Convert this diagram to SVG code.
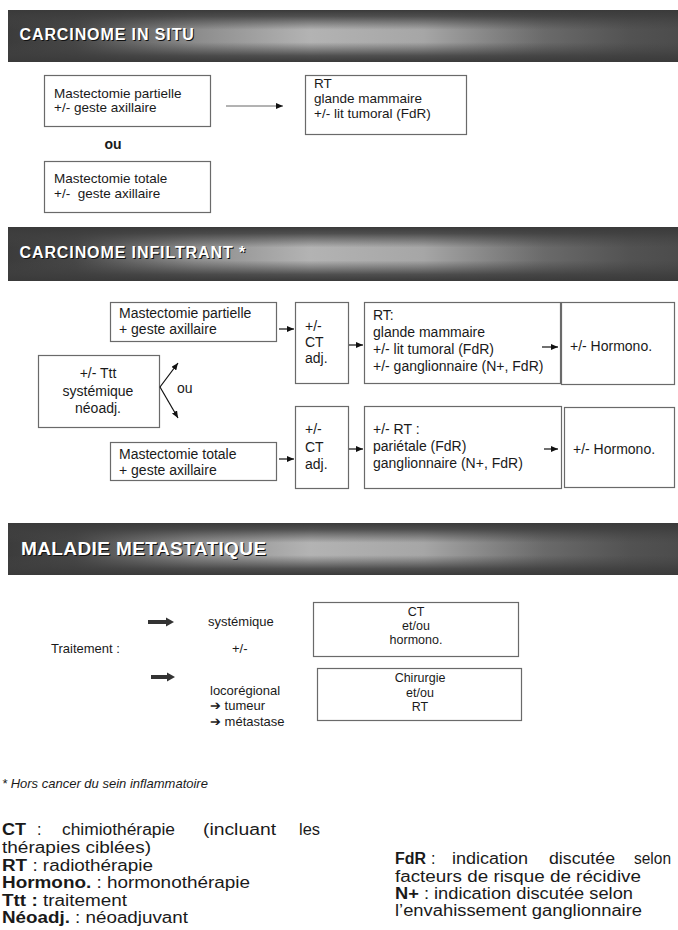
<svg xmlns="http://www.w3.org/2000/svg" width="678" height="930" viewBox="0 0 678 930">
<style>
text{font-family:"Liberation Sans",Arial,sans-serif;fill:#1a1a1a}
.t{font-weight:bold;fill:#fff}
.ts{font-weight:bold;fill:#111}
.box{fill:#fff;stroke:#6a6a6a;stroke-width:1.2}
.s{font-size:13.5px}
.m{font-size:14px}
.k{font-size:13px}
.b{font-size:12.5px}
.c{text-anchor:middle}
.lg{font-size:16px}
.bd{font-weight:bold}
.con line{stroke:#111;stroke-width:1.2;fill:none}
</style>
<defs>
<linearGradient id="bh" x1="0" y1="0" x2="1" y2="0">
<stop offset="0" stop-color="#3c3c3c"/>
<stop offset="0.1" stop-color="#464646"/>
<stop offset="0.28" stop-color="#8c8c8c"/>
<stop offset="0.45" stop-color="#b3b3b3"/>
<stop offset="0.62" stop-color="#a6a6a6"/>
<stop offset="0.8" stop-color="#6a6a6a"/>
<stop offset="0.93" stop-color="#525252"/>
<stop offset="1" stop-color="#4c4c4c"/>
</linearGradient>
<linearGradient id="bv" x1="0" y1="0" x2="0" y2="1">
<stop offset="0" stop-color="#3a3a3a" stop-opacity="1"/>
<stop offset="0.12" stop-color="#3e3e3e" stop-opacity="0.85"/>
<stop offset="0.38" stop-color="#444" stop-opacity="0"/>
<stop offset="0.62" stop-color="#444" stop-opacity="0"/>
<stop offset="0.88" stop-color="#3e3e3e" stop-opacity="0.85"/>
<stop offset="1" stop-color="#3a3a3a" stop-opacity="1"/>
</linearGradient>
<marker id="ah" markerUnits="userSpaceOnUse" markerWidth="7" markerHeight="6" refX="7" refY="3" orient="auto">
<path d="M0,0 L7,3 L0,6 z" fill="#111"/>
</marker>
</defs>

<g id="banner-insitu">
<rect x="8" y="10" width="670" height="52" fill="url(#bh)"/>
<rect x="8" y="10" width="670" height="52" fill="url(#bv)"/>
<text class="ts" x="20.5" y="41" font-size="16" letter-spacing="0.9">CARCINOME IN SITU</text>
<text class="t" x="19.5" y="40" font-size="16" letter-spacing="0.9">CARCINOME IN SITU</text>
</g>

<g id="insitu-partielle">
<rect class="box" x="44.5" y="75.5" width="166" height="51"/>
<text class="s" x="54" y="98">Mastectomie partielle</text>
<text class="s" x="54" y="112">+/- geste axillaire</text>
</g>
<g id="insitu-rt">
<rect class="box" x="305.5" y="75.5" width="161" height="59"/>
<text class="s" x="314" y="88">RT</text>
<text class="s" x="314" y="103">glande mammaire</text>
<text class="s" x="314" y="118">+/- lit tumoral (FdR)</text>
</g>
<g id="insitu-ou">
<text class="m bd c" x="113" y="149">ou</text>
</g>
<g id="insitu-totale">
<rect class="box" x="44.5" y="161.5" width="166" height="51"/>
<text class="s" x="54" y="183">Mastectomie totale</text>
<text class="s" x="54" y="198">+/-&#160; geste axillaire</text>
</g>

<g id="banner-infiltrant">
<rect x="8" y="227" width="670" height="54" fill="url(#bh)"/>
<rect x="8" y="227" width="670" height="54" fill="url(#bv)"/>
<text class="ts" x="20.5" y="259" font-size="16" letter-spacing="0.9">CARCINOME INFILTRANT *</text>
<text class="t" x="19.5" y="258" font-size="16" letter-spacing="0.9">CARCINOME INFILTRANT *</text>
</g>

<g id="inf-partielle">
<rect class="box" x="110.5" y="302.5" width="166" height="39"/>
<text class="m" x="119" y="318">Mastectomie partielle</text>
<text class="m" x="119" y="334">+ geste axillaire</text>
</g>
<g id="inf-ct1">
<rect class="box" x="295.5" y="302.5" width="53" height="81"/>
<text class="m" x="305" y="331">+/-</text>
<text class="m" x="305" y="347">CT</text>
<text class="m" x="305" y="363">adj.</text>
</g>
<g id="inf-rt1">
<rect class="box" x="364.5" y="302.5" width="196" height="81"/>
<text class="m" x="373" y="320">RT:</text>
<text class="m" x="373" y="337">glande mammaire</text>
<text class="m" x="373" y="354">+/- lit tumoral (FdR)</text>
<text class="m" x="373" y="371">+/- ganglionnaire (N+, FdR)</text>
</g>
<g id="inf-hormono1">
<rect class="box" x="561.5" y="302.5" width="113" height="82"/>
<text class="m" x="570" y="351">+/- Hormono.</text>
</g>
<g id="inf-ttt">
<rect class="box" x="38.5" y="355.5" width="121" height="72"/>
<text class="m c" x="98" y="378">+/- Ttt</text>
<text class="m c" x="98" y="396">systémique</text>
<text class="m c" x="98" y="413">néoadj.</text>
</g>
<g id="inf-ou">
<text class="m" x="177" y="393">ou</text>
</g>
<g id="inf-totale">
<rect class="box" x="110.5" y="442.5" width="166" height="38"/>
<text class="m" x="119" y="459">Mastectomie totale</text>
<text class="m" x="119" y="475">+ geste axillaire</text>
</g>
<g id="inf-ct2">
<rect class="box" x="295.5" y="406.5" width="53" height="82"/>
<text class="m" x="305" y="434">+/-</text>
<text class="m" x="305" y="452">CT</text>
<text class="m" x="305" y="469">adj.</text>
</g>
<g id="inf-rt2">
<rect class="box" x="364.5" y="406.5" width="197" height="82"/>
<text class="m" x="373" y="434">+/- RT :</text>
<text class="m" x="373" y="451">pariétale (FdR)</text>
<text class="m" x="373" y="468">ganglionnaire (N+, FdR)</text>
</g>
<g id="inf-hormono2">
<rect class="box" x="564.5" y="407.5" width="110" height="80"/>
<text class="m" x="573" y="454">+/- Hormono.</text>
</g>

<g id="banner-meta">
<rect x="8" y="523" width="670" height="52" fill="url(#bh)"/>
<rect x="8" y="523" width="670" height="52" fill="url(#bv)"/>
<text class="ts" x="22" y="556" font-size="19" letter-spacing="0.4">MALADIE METASTATIQUE</text>
<text class="t" x="21" y="555" font-size="19" letter-spacing="0.4">MALADIE METASTATIQUE</text>
</g>

<g id="meta-labels">
<text class="k" x="51" y="653">Traitement :</text>
<text class="k" x="208" y="626">systémique</text>
<text class="k" x="232" y="653">+/-</text>
<text class="k" x="210" y="695">locorégional</text>
<text class="k" x="210" y="710">➔ tumeur</text>
<text class="k" x="210" y="726">➔ métastase</text>
</g>
<g id="meta-ct">
<rect class="box" x="313.5" y="602.5" width="205" height="54"/>
<text class="b c" x="416" y="616">CT</text>
<text class="b c" x="416" y="630">et/ou</text>
<text class="b c" x="416" y="644">hormono.</text>
</g>
<g id="meta-chir">
<rect class="box" x="317.5" y="668.5" width="204" height="52"/>
<text class="b c" x="420" y="682">Chirurgie</text>
<text class="b c" x="420" y="697">et/ou</text>
<text class="b c" x="420" y="711">RT</text>
</g>

<g id="connectors" class="con">
<line x1="226" y1="106" x2="283" y2="106" style="stroke:#666;stroke-width:1" marker-end="url(#ah)"/>
<line x1="279" y1="329" x2="294" y2="329" marker-end="url(#ah)"/>
<line x1="349" y1="345" x2="363" y2="345" marker-end="url(#ah)"/>
<line x1="542" y1="347" x2="558" y2="347" marker-end="url(#ah)"/>
<line x1="279" y1="459" x2="294" y2="459" marker-end="url(#ah)"/>
<line x1="349" y1="449" x2="363" y2="449" marker-end="url(#ah)"/>
<line x1="544" y1="449" x2="558" y2="449" marker-end="url(#ah)"/>
<line x1="160" y1="387" x2="178" y2="363" marker-end="url(#ah)"/>
<line x1="160" y1="387" x2="178" y2="418" marker-end="url(#ah)"/>
<polygon points="148,620 166,620 166,617.5 174,622 166,626.5 166,624 148,624" fill="#333"/>
<polygon points="151,675 167,675 167,672.5 175,677 167,681.5 167,679 151,679" fill="#333"/>
</g>

<g id="legend">
<text x="2" y="788" font-size="13" font-style="italic" fill="#333">* Hors cancer du sein inflammatoire</text>
<text class="lg bd" x="2" y="835" textLength="24" lengthAdjust="spacingAndGlyphs">CT</text>
<text class="lg" x="37" y="835">:</text>
<text class="lg" x="62" y="835" textLength="113" lengthAdjust="spacingAndGlyphs">chimiothérapie</text>
<text class="lg" x="203" y="835" textLength="73" lengthAdjust="spacingAndGlyphs">(incluant</text>
<text class="lg" x="299" y="835" textLength="21" lengthAdjust="spacingAndGlyphs">les</text>
<text class="lg" x="2" y="853" textLength="149" lengthAdjust="spacingAndGlyphs">thérapies ciblées)</text>
<text class="lg" x="2" y="871" textLength="151" lengthAdjust="spacingAndGlyphs"><tspan class="bd">RT</tspan> : radiothérapie</text>
<text class="lg" x="2" y="888" textLength="248" lengthAdjust="spacingAndGlyphs"><tspan class="bd">Hormono.</tspan> : hormonothérapie</text>
<text class="lg" x="2" y="906" textLength="125" lengthAdjust="spacingAndGlyphs"><tspan class="bd">Ttt :</tspan> traitement</text>
<text class="lg" x="2" y="923" textLength="186" lengthAdjust="spacingAndGlyphs"><tspan class="bd">Néoadj.</tspan> : néoadjuvant</text>
<text class="lg bd" x="395" y="864" textLength="31" lengthAdjust="spacingAndGlyphs">FdR</text>
<text class="lg" x="431" y="864">:</text>
<text class="lg" x="452" y="864" textLength="76" lengthAdjust="spacingAndGlyphs">indication</text>
<text class="lg" x="549" y="864" textLength="66" lengthAdjust="spacingAndGlyphs">discutée</text>
<text class="lg" x="634" y="864" textLength="37" lengthAdjust="spacingAndGlyphs">selon</text>
<text class="lg" x="395" y="882" textLength="246" lengthAdjust="spacingAndGlyphs">facteurs de risque de récidive</text>
<text class="lg" x="395" y="899" textLength="238" lengthAdjust="spacingAndGlyphs"><tspan class="bd">N+</tspan> : indication discutée selon</text>
<text class="lg" x="395" y="916" textLength="247" lengthAdjust="spacingAndGlyphs">l’envahissement ganglionnaire</text>
</g>
</svg>
